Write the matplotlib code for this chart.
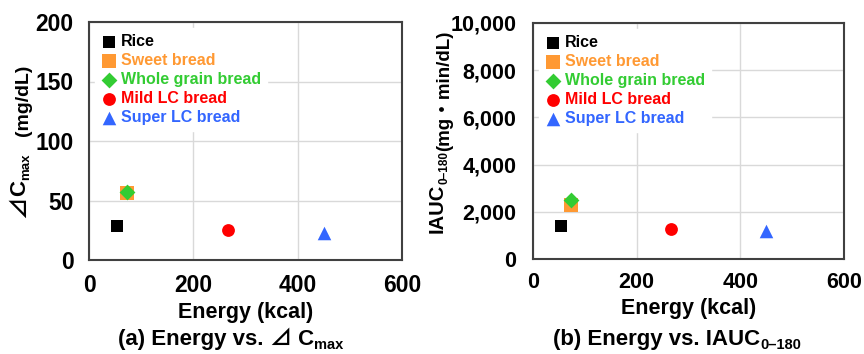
import matplotlib.pyplot as plt

plt.rcParams["font.family"] = ["Liberation Sans", "Noto Sans CJK JP", "DejaVu Sans"]
plt.rcParams["font.weight"] = "bold"
plt.rcParams["mathtext.fontset"] = "custom"
plt.rcParams["mathtext.rm"] = "Liberation Sans:bold"
plt.rcParams["mathtext.it"] = "Liberation Sans:bold"
plt.rcParams["mathtext.bf"] = "Liberation Sans:bold"
plt.rcParams["mathtext.default"] = "rm"

# data
foods = ["Rice", "Sweet bread", "Whole grain bread", "Mild LC bread", "Super LC bread"]
energy = [54, 73, 73, 267, 450]
delta_cmax = [28.5, 56.5, 57, 25, 23]
iauc = [1400, 2290, 2500, 1270, 1180]

markers = ["s", "s", "D", "o", "^"]
colors = ["#000000", "#FF9933", "#33CC33", "#FF0000", "#3366FF"]
sizes = [70, 110, 65, 85, 95]

W, H = 864, 354
fig = plt.figure(figsize=(W / 100, H / 100), dpi=100)
ax1 = fig.add_axes([89 / W, 1 - 260 / H, 313 / W, 238 / H])
ax2 = fig.add_axes([533 / W, 1 - 259 / H, 311 / W, 236 / H])
renderer = fig.canvas.get_renderer()


def draw(ax, yvals, ylim, yticks, yticklabels, tsize, ypad, xpad):
    for i, name in enumerate(foods):
        ax.scatter(energy[i], yvals[i], marker=markers[i], s=sizes[i], color=colors[i],
                   label=name, zorder=3, linewidths=0)
    ax.set_xlim(0, 600)
    ax.set_ylim(*ylim)
    ax.set_xticks([0, 200, 400, 600])
    ax.set_yticks(yticks)
    ax.set_yticklabels(yticklabels)
    ax.tick_params(length=0, labelsize=tsize)
    ax.tick_params(axis="x", pad=xpad)
    ax.tick_params(axis="y", pad=ypad)
    ax.grid(True, color="#D9D9D9", linewidth=1)
    ax.set_axisbelow(True)
    for s in ax.spines.values():
        s.set_color("#404040")
        s.set_linewidth(1.5)
    ax.set_xlabel("Energy (kcal)", fontsize=15.5, fontweight="bold", labelpad=4)
    leg = ax.legend(loc="upper left", frameon=True, fontsize=11.5, handletextpad=0.25,
                    borderpad=0.35, labelspacing=0.25, handlelength=1.0, borderaxespad=0.4,
                    scatterpoints=1, fancybox=False)
    leg.get_frame().set_edgecolor("white")
    leg.get_frame().set_facecolor("white")
    leg.get_frame().set_alpha(1)
    for t, c in zip(leg.get_texts(), colors):
        t.set_color(c)
        t.set_fontweight("bold")


def chain(x, y, pieces, rotation=0, **kw):
    # place text pieces one after another (pixels from top-left);
    # "drop" lowers a piece below the baseline (subscript)
    for s, extra in pieces:
        extra = dict(extra)
        drop = extra.pop("drop", 0)
        if rotation == 0:
            px, py = x, y + drop
        else:
            px, py = x + drop, y
        t = fig.text(px / W, 1 - py / H, s, rotation=rotation, rotation_mode="anchor",
                     ha="left", va="baseline", **{**kw, **extra})
        bb = t.get_window_extent(renderer)
        if rotation == 0:
            x += bb.width
        else:
            y -= bb.height


draw(ax1, delta_cmax, (0, 200), [0, 50, 100, 150, 200], ["0", "50", "100", "150", "200"],
     16.5, 11, 10)
draw(ax2, iauc, (0, 10000), [0, 2000, 4000, 6000, 8000, 10000],
     ["0", "2,000", "4,000", "6,000", "8,000", "10,000"], 15.5, 12, 9)

# y labels, the unit smaller
chain(25, 218, [("\u22bf", {}), ("C", {}), ("max", {"fontsize": 9.5, "drop": 4})],
      rotation=90, fontsize=16)
chain(28, 136, [("(mg/dL)", {})], rotation=90, fontsize=14)
chain(443, 233, [("IAUC", {}), ("0\u2013180", {"fontsize": 8.5, "drop": 4})],
      rotation=90, fontsize=14.5)
chain(449, 151, [("(mg\u30fbmin/dL)", {"family": ["Liberation Sans", "Noto Sans CJK JP"]})],
      rotation=90, fontsize=13.5)

# captions
chain(118, 345, [("(a) Energy vs. ", {}), ("\u22bf", {}), (" C", {}),
                 ("max", {"fontsize": 10.5, "drop": 4})], fontsize=16)
chain(553, 345, [("(b) Energy vs. IAUC", {}), ("0\u2013180", {"fontsize": 10.5, "drop": 4})],
      fontsize=16)

fig.savefig("out.png", dpi=100)
